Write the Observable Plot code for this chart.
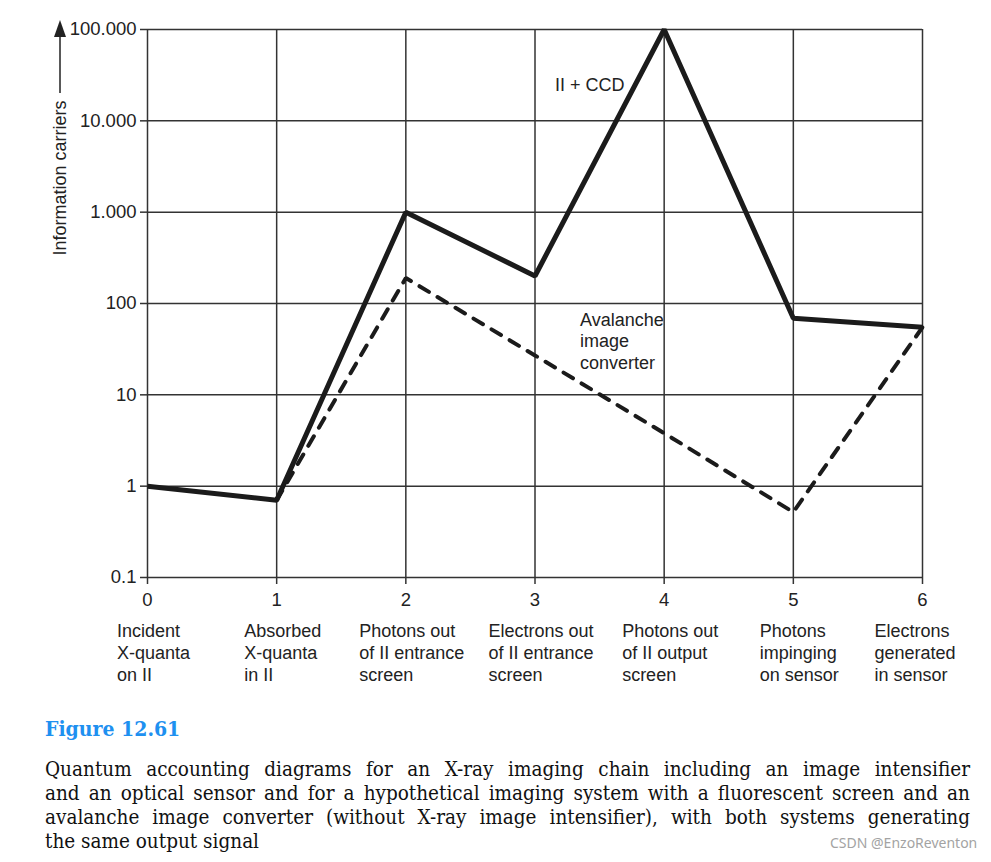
<!DOCTYPE html>
<html>
<head>
<meta charset="utf-8">
<script src="https://cdn.jsdelivr.net/npm/d3@7"></script>
<script src="https://cdn.jsdelivr.net/npm/@observablehq/plot@0.6"></script>
<style>
  html, body { margin: 0; padding: 0; background: #fff; }
  #wrap { position: relative; width: 991px; height: 862px; overflow: hidden; }
  #caption { position: absolute; left: 45px; top: 717px; width: 925px; font-family: "DejaVu Serif", "Liberation Serif", serif; font-stretch: condensed; color: #111; }
  #caption .fig { font-weight: bold; color: #1e90f0; font-size: 21px; line-height: 24px; margin-bottom: 16px; }
  #caption .ln { display: block; font-size: 20.5px; line-height: 24px; text-align: justify; text-align-last: justify; white-space: nowrap; }
  #caption .last { text-align: left; text-align-last: left; }
  #wm { position: absolute; left: 830px; top: 833px; white-space: nowrap; font-family: "Noto Sans", "DejaVu Sans", sans-serif; font-size: 14px; color: #a3a3a3; }
</style>
</head>
<body>
<div id="wrap">
  <div id="chart"></div>
  <div id="caption">
    <div class="fig">Figure 12.61</div>
    <span class="ln">Quantum accounting diagrams for an X-ray imaging chain including an image intensifier</span>
    <span class="ln">and an optical sensor and for a hypothetical imaging system with a fluorescent screen and an</span>
    <span class="ln">avalanche image converter (without X-ray image intensifier), with both systems generating</span>
    <span class="ln last">the same output signal</span>
  </div>
  <div id="wm">CSDN @EnzoReventon</div>
</div>
<script>
// ---- data ----
const steps = [0, 1, 2, 3, 4, 5, 6];
const categories = [
  "Incident\nX-quanta\non II",
  "Absorbed\nX-quanta\nin II",
  "Photons out\nof II entrance\nscreen",
  "Electrons out\nof II entrance\nscreen",
  "Photons out\nof II output\nscreen",
  "Photons\nimpinging\non sensor",
  "Electrons\ngenerated\nin sensor"
];
const iiCcd     = [1, 0.7, 1000, 200, 100000, 69, 55];
const avalanche = [null, 0.7, 190, 27, 3.8, 0.52, 55];
const yTicks = [0.1, 1, 10, 100, 1000, 10000, 100000];
const yTickLabels = ["0.1", "1", "10", "100", "1.000", "10.000", "100.000"];
const seriesNames = ["II + CCD", "Avalanche\nimage\nconverter"];
const yTitle = "Information carriers";

// ---- build tables ----
const solidData = steps.map((s, i) => ({x: s, y: iiCcd[i]}));
const dashData = steps.map((s, i) => ({x: s, y: avalanche[i]})).filter(d => d.y != null);

const ctx = document.createElement("canvas").getContext("2d");
ctx.font = "18px 'Liberation Sans'";
function blockWidth(t) { return d3.max(t.split("\n"), l => ctx.measureText(l).width); }

const marginLeft = 147, marginTop = 29, marginRight = 69, marginBottom = 123;
const W = 991, H = 700;
const fontFamily = "'Liberation Sans', Arial, Helvetica, sans-serif";
const lineColor = "#1b1b1b";
const gridColor = "#333";
const xScalePx = (W - marginLeft - marginRight) / 6;

const labelMarks = categories.map((c, i) => {
  const w = blockWidth(c);
  const xPx = marginLeft + i * xScalePx;
  const dx = Math.min(-w / 2 + 6, (W - 36) - xPx - w);
  return Plot.text([c], {
    x: () => steps[i],
    frameAnchor: "bottom",
    dy: 44,
    lineAnchor: "top",
    textAnchor: "start",
    lineHeight: 1.222,
    fontSize: 18,
    fill: "#222",
    dx
  });
});

const chart = Plot.plot({
  width: W,
  height: H,
  marginLeft, marginRight, marginTop, marginBottom,
  style: {fontFamily, fontSize: "18px", color: "#222", background: "white", overflow: "visible"},
  x: {domain: [0, 6]},
  y: {type: "log", domain: [0.1, 100000]},
  marks: [
    Plot.gridX(steps, {stroke: gridColor, strokeOpacity: 1, strokeWidth: 1.5}),
    Plot.gridY(yTicks, {stroke: gridColor, strokeOpacity: 1, strokeWidth: 1.5}),
    Plot.axisY({ticks: yTicks, tickFormat: v => yTickLabels[yTicks.indexOf(v)], tickSize: 7, tickPadding: 4, label: null, fontSize: 18.5, stroke: gridColor, strokeWidth: 1.5}),
    Plot.axisX({ticks: steps, tickFormat: d => String(d), tickSize: 7, tickPadding: 8, label: null, fontSize: 18.5, stroke: gridColor, strokeWidth: 1.5}),
    Plot.line(dashData, {x: "x", y: "y", stroke: lineColor, strokeWidth: 4, strokeDasharray: "11,10", strokeLinejoin: "miter"}),
    Plot.line(solidData, {x: "x", y: "y", stroke: lineColor, strokeWidth: 5, strokeLinejoin: "miter", strokeLinecap: "butt"}),
    ...labelMarks,
    Plot.text([seriesNames[0]], {x: () => steps[3], frameAnchor: "top", dx: 20, dy: 56, textAnchor: "start", lineAnchor: "middle", fontSize: 18, fill: "#222"}),
    Plot.text([seriesNames[1]], {x: () => steps[3], y: () => yTicks[3], dx: 45, dy: 7, textAnchor: "start", lineAnchor: "top", lineHeight: 1.2, fontSize: 18, fill: "#222"}),
    Plot.text([yTitle], {frameAnchor: "top-left", dx: -87, dy: 71, rotate: -90, textAnchor: "end", lineAnchor: "middle", fontSize: 18, fill: "#222"})
  ]
});

const svg = d3.select(chart);
const ax = marginLeft - 87;
svg.append("line")
  .attr("x1", ax).attr("x2", ax)
  .attr("y1", marginTop + 64).attr("y2", marginTop + 8)
  .attr("stroke", "#222").attr("stroke-width", 1.5);
svg.append("path")
  .attr("d", `M${ax},${marginTop - 9} L${ax - 6},${marginTop + 8} L${ax + 6},${marginTop + 8} Z`)
  .attr("fill", "#222");

document.getElementById("chart").appendChild(chart);
</script>
</body>
</html>
